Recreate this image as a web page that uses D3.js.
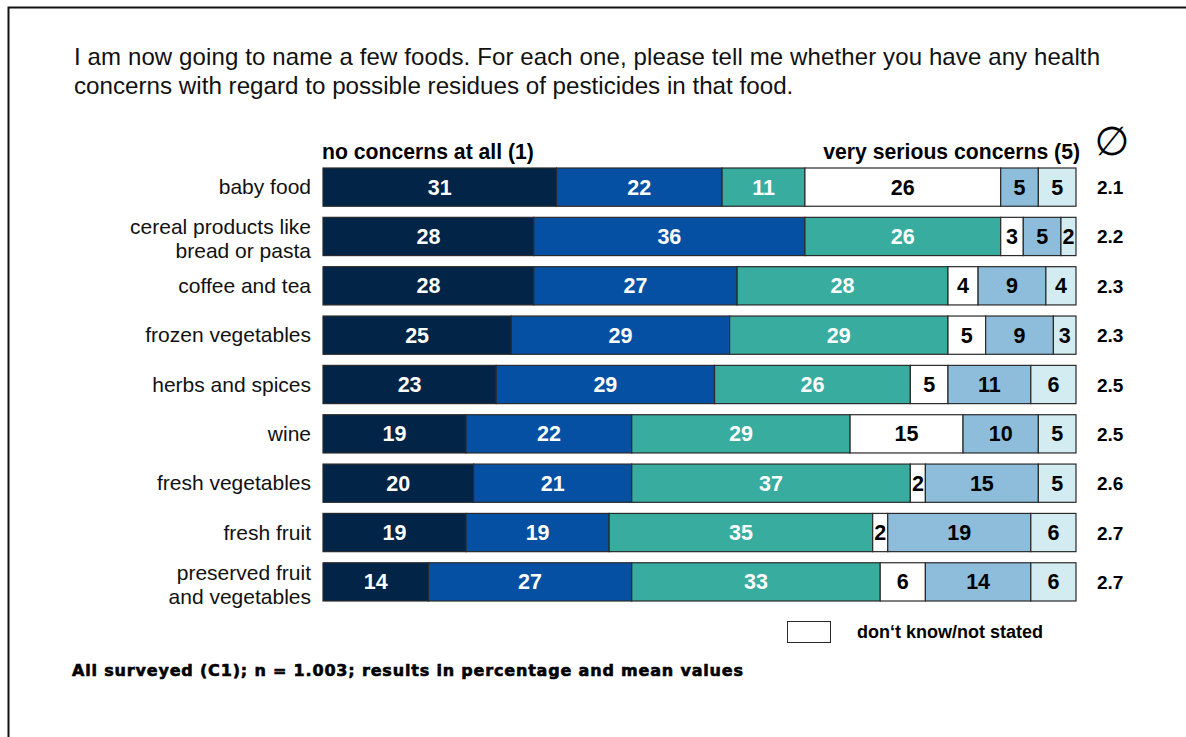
<!DOCTYPE html>
<html>
<head>
<meta charset="utf-8">
<script src="https://cdn.jsdelivr.net/npm/d3@7"></script>
<style>
  html, body { margin: 0; padding: 0; background: #fff; }
  svg { display: block; font-family: "Liberation Sans", Arial, Helvetica, sans-serif; }
</style>
</head>
<body>
<div id="chart"></div>
<script>
(function() {
  'use strict';

  // answer categories, left to right as stacked in the bars
  var foods = [
    ['baby food'],
    ['cereal products like', 'bread or pasta'],
    ['coffee and tea'],
    ['frozen vegetables'],
    ['herbs and spices'],
    ['wine'],
    ['fresh vegetables'],
    ['fresh fruit'],
    ['preserved fruit', 'and vegetables']
  ];
  var noConcerns   = [31, 28, 28, 25, 23, 19, 20, 19, 14];
  var fewConcerns  = [22, 36, 27, 29, 29, 22, 21, 19, 27];
  var someConcerns = [11, 26, 28, 29, 26, 29, 37, 35, 33];
  var dontKnow     = [26, 3, 4, 5, 5, 15, 2, 2, 6];
  var serious      = [5, 5, 9, 9, 11, 10, 15, 19, 14];
  var verySerious  = [5, 2, 4, 3, 6, 5, 5, 6, 6];
  var means = ['2.1', '2.2', '2.3', '2.3', '2.5', '2.5', '2.6', '2.7', '2.7'];

  var seriesList = [noConcerns, fewConcerns, someConcerns, dontKnow, serious, verySerious];
  var fills = ['#022447', '#0550a2', '#37ac9f', '#ffffff', '#8dbdda', '#d3ecf2'];
  var labelColors = ['#fff', '#fff', '#fff', '#000', '#000', '#000'];

  var title1 = 'I am now going to name a few foods. For each one, please tell me whether you have any health';
  var title2 = 'concerns with regard to possible residues of pesticides in that food.';
  var leftHead = 'no concerns at all (1)';
  var rightHead = 'very serious concerns (5)';
  var legendText = 'don\u2018t know/not stated';
  var footer = 'All surveyed (C1); n = 1.003; results in percentage and mean values';

  var W = 1186, H = 737;

  var svg = d3.select('#chart').append('svg')
    .attr('width', W)
    .attr('height', H);

  // frame: top and left only
  svg.append('path')
    .attr('d', 'M8.5,' + H + 'V7.5H' + W)
    .attr('fill', 'none')
    .attr('stroke', '#111')
    .attr('stroke-width', 2);

  svg.append('text')
    .attr('x', 74).attr('y', 65)
    .attr('font-size', 24).attr('fill', '#111')
    .attr('textLength', 1026)
    .text(title1);
  svg.append('text')
    .attr('x', 74).attr('y', 94)
    .attr('font-size', 24.2).attr('fill', '#111')
    .text(title2);

  var x = d3.scaleLinear()
    .domain([0, 100])
    .range([323, 1076]);

  var y = d3.scaleBand()
    .domain(d3.range(foods.length))
    .range([168, 601])
    .paddingInner(0.225)
    .paddingOuter(0);

  svg.append('text')
    .attr('x', x(0) - 1).attr('y', 159)
    .attr('font-size', 21.2).attr('font-weight', 'bold')
    .text(leftHead);
  svg.append('text')
    .attr('x', x(100) + 4).attr('y', 159)
    .attr('text-anchor', 'end')
    .attr('font-size', 21.2).attr('font-weight', 'bold')
    .text(rightHead);
  svg.append('text')
    .attr('x', 1112).attr('y', 155)
    .attr('text-anchor', 'middle')
    .attr('font-family', 'DejaVu Sans')
    .attr('font-size', 40)
    .text('\u2205');

  // build segments
  var segs = [];
  foods.forEach(function(f, i) {
    var acc = 0;
    seriesList.forEach(function(s, k) {
      segs.push({ row: i, k: k, x0: acc, x1: acc + s[i], v: s[i] });
      acc += s[i];
    });
  });

  var rows = svg.append('g').attr('class', 'bars');

  rows.selectAll('rect')
    .data(segs)
    .enter().append('rect')
    .attr('x', function(d) { return x(d.x0); })
    .attr('y', function(d) { return y(d.row); })
    .attr('width', function(d) { return x(d.x1) - x(d.x0); })
    .attr('height', y.bandwidth())
    .attr('fill', function(d) { return fills[d.k]; })
    .attr('stroke', '#2a2a2a')
    .attr('stroke-width', 1.2);

  rows.selectAll('text')
    .data(segs)
    .enter().append('text')
    .attr('x', function(d) { return (x(d.x0) + x(d.x1)) / 2; })
    .attr('y', function(d) { return y(d.row) + y.bandwidth() / 2 + 7.5; })
    .attr('text-anchor', 'middle')
    .attr('font-size', 21.5)
    .attr('font-weight', 'bold')
    .attr('fill', function(d) { return labelColors[d.k]; })
    .text(function(d) { return d.v; });

  // category labels
  var cat = svg.append('g').selectAll('text')
    .data(foods)
    .enter().append('text')
    .attr('text-anchor', 'end')
    .attr('font-size', 21)
    .attr('fill', '#111');
  cat.each(function(lines, i) {
    var cy = y(i) + y.bandwidth() / 2 + (lines.length > 1 ? 10 : 7);
    var el = d3.select(this);
    lines.forEach(function(l, j) {
      el.append('tspan')
        .attr('x', 311)
        .attr('y', cy + (j - (lines.length - 1) / 2) * 24)
        .text(l);
    });
  });

  // means
  svg.append('g').selectAll('text')
    .data(means)
    .enter().append('text')
    .attr('x', 1097)
    .attr('y', function(d, i) { return y(i) + y.bandwidth() / 2 + 7; })
    .attr('font-size', 19)
    .attr('font-weight', 'bold')
    .text(function(d) { return d; });

  // legend
  svg.append('rect')
    .attr('x', 787.5).attr('y', 621.5)
    .attr('width', 43).attr('height', 21)
    .attr('fill', '#fff')
    .attr('stroke', '#2a2a2a');
  svg.append('text')
    .attr('x', 857).attr('y', 638)
    .attr('font-size', 18).attr('font-weight', 'bold')
    .text(legendText);

  svg.append('text')
    .attr('x', 72).attr('y', 676)
    .attr('font-family', 'DejaVu Sans')
    .attr('font-size', 16).attr('font-weight', 'bold')
    .attr('stroke', '#000').attr('stroke-width', 0.6)
    .attr('textLength', 671)
    .text(footer);
})();
</script>
</body>
</html>
